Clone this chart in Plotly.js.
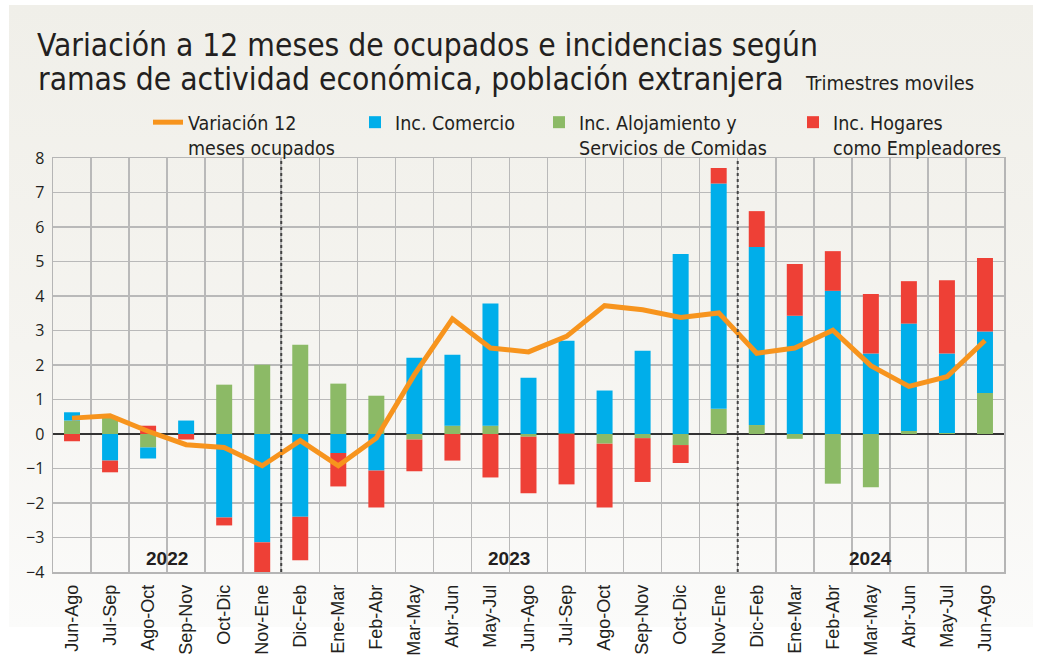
<!DOCTYPE html>
<html>
<head>
<meta charset="utf-8">
<script src="https://cdn.plot.ly/plotly-3.0.1.min.js"></script>
<style>
  html, body { margin: 0; padding: 0; background: #ffffff; }
  #wrap { position: relative; width: 1042px; height: 659px; overflow: hidden; }
  #bg { position: absolute; left: 9px; top: 5px; width: 1024px; height: 622px;
        background: linear-gradient(to bottom, #f0efe9 0%, #f5f4f0 55%, #fbfbfa 100%); }
  #chart { position: absolute; left: 0; top: 0; width: 1042px; height: 659px; }
</style>
</head>
<body>
<div id="wrap">
  <div id="bg"></div>
  <div id="chart"></div>
</div>
<script>
// ---- data ----
const categories = ["Jun-Ago","Jul-Sep","Ago-Oct","Sep-Nov","Oct-Dic","Nov-Ene",
  "Dic-Feb","Ene-Mar","Feb-Abr","Mar-May","Abr-Jun","May-Jul","Jun-Ago","Jul-Sep",
  "Ago-Oct","Sep-Nov","Oct-Dic","Nov-Ene",
  "Dic-Feb","Ene-Mar","Feb-Abr","Mar-May","Abr-Jun","May-Jul","Jun-Ago"];

const incAlojamiento = [0.39, 0.50, -0.39, 0.00, 1.43, 2.01, 2.59, 1.46, 1.11, -0.16,
  0.24, 0.24, -0.08, 0.02, -0.28, -0.12, -0.32, 0.73, 0.26, -0.14, -1.44, -1.54, 0.09, 0.03, 1.19];

const incComercio = [0.24, -0.77, -0.32, 0.39, -2.42, -3.14, -2.40, -0.55, -1.06, 2.21,
  2.06, 3.54, 1.63, 2.68, 1.26, 2.41, 5.22, 6.53, 5.16, 3.43, 4.15, 2.33, 3.11, 2.30, 1.78];

const incHogares = [-0.21, -0.34, 0.24, -0.16, -0.23, -0.90, -1.26, -0.97, -1.07, -0.92,
  -0.77, -1.26, -1.64, -1.46, -1.85, -1.27, -0.52, 0.45, 1.04, 1.50, 1.15, 1.73, 1.23, 2.13, 2.13];

const variacionOcupados = [0.46, 0.53, 0.08, -0.31, -0.39, -0.92, -0.19, -0.92, -0.12, 1.72,
  3.34, 2.49, 2.38, 2.83, 3.72, 3.60, 3.38, 3.51, 2.34, 2.49, 3.01, 1.98, 1.38, 1.66, 2.71];

const yearLabels = ["2022", "2023", "2024"];
const yearLabelPos = [2.5, 11.5, 21.0];
const yearBreaks = [5.5, 17.5];

const titleLine1 = "Variación a 12 meses de ocupados e incidencias según";
const titleLine2 = "ramas de actividad económica, población extranjera";
const subtitleText = "Trimestres moviles";

const legendNames = ["Variación 12<br>meses ocupados", "Inc. Comercio",
  "Inc. Alojamiento y<br>Servicios de Comidas", "Inc. Hogares<br>como Empleadores"];

// ---- chart ----
const xs = categories.map((_, i) => i);
const FONT = "'Liberation Sans Narrow', 'DejaVu Sans Condensed', 'Liberation Sans', sans-serif";
const TXT = "#231f20";

const COL_BLUE = "#00aeea";
const COL_GREEN = "#8cba66";
const COL_RED = "#ee4036";
const COL_ORANGE = "#f7941d";

const barW = 0.42;

// plot area in pixels (for paper-coordinate conversions)
const PL = 53, PR = 1004, PT = 158, PB = 572;
const px2paperX = px => (px - PL) / (PR - PL);
const px2paperY = py => (PB - py) / (PB - PT);

const traces = [
  { type: "bar", x: xs, y: incAlojamiento, name: legendNames[2], marker: { color: COL_GREEN },
    width: barW, legend: "legend3", hoverinfo: "y" },
  { type: "bar", x: xs, y: incComercio, name: legendNames[1], marker: { color: COL_BLUE },
    width: barW, legend: "legend2", hoverinfo: "y" },
  { type: "bar", x: xs, y: incHogares, name: legendNames[3], marker: { color: COL_RED },
    width: barW, legend: "legend4", hoverinfo: "y" },
  { type: "scatter", mode: "lines", x: xs, y: variacionOcupados, name: legendNames[0],
    line: { color: COL_ORANGE, width: 5 }, legend: "legend", hoverinfo: "y" }
];

function legendAt(px) {
  return { x: px / 1042, xref: "container", xanchor: "left",
    y: 1 - 103 / 659, yref: "container", yanchor: "top",
    orientation: "h", valign: "top", bgcolor: "rgba(0,0,0,0)", borderwidth: 0,
    font: { family: FONT, size: 19.5, color: TXT } };
}

const shapes = yearBreaks.map(xb => ({
  type: "line", xref: "x", yref: "y", x0: xb, x1: xb, y0: -4, y1: 8,
  line: { color: "#444", width: 2, dash: "dot" }, layer: "above"
}));

const annotations = yearLabels.map((t, i) => ({
  text: "<b>" + t + "</b>", x: yearLabelPos[i], y: -3.62, xref: "x", yref: "y",
  showarrow: false, font: { family: "'Liberation Sans', Arial, sans-serif", size: 19, color: TXT }
}));

annotations.push({
  text: titleLine2,
  xref: "paper", yref: "paper", x: px2paperX(36), y: px2paperY(79),
  xanchor: "left", yanchor: "middle", showarrow: false,
  font: { family: FONT, size: 31.5, color: TXT }
});
annotations.push({
  text: subtitleText,
  xref: "paper", yref: "paper", x: px2paperX(803), y: px2paperY(83),
  xanchor: "left", yanchor: "middle", showarrow: false,
  font: { family: FONT, size: 20, color: TXT }
});

const layout = {
  width: 1042, height: 659,
  paper_bgcolor: "rgba(0,0,0,0)", plot_bgcolor: "rgba(0,0,0,0)",
  margin: { l: PL, r: 1042 - PR, t: PT, b: 659 - PB, autoexpand: false },
  barmode: "relative",
  title: {
    text: titleLine1,
    x: 37 / 1042, xanchor: "left", xref: "container",
    y: 1 - 34 / 659, yanchor: "top", yref: "container",
    font: { family: FONT, size: 31.5, color: TXT }
  },
  font: { family: FONT, color: TXT },
  showlegend: true,
  legend: legendAt(148),
  legend2: legendAt(355),
  legend3: legendAt(539),
  legend4: legendAt(793),
  xaxis: {
    range: [-0.5, 24.5],
    tickmode: "array", tickvals: xs, ticktext: categories,
    tickangle: -90,
    tickfont: { family: "'Liberation Sans', Arial, sans-serif", size: 18, color: TXT },
    showgrid: false, zeroline: false,
    showline: true, linecolor: "#b5b5b5", linewidth: 1.5, mirror: true,
    ticks: "", ticklabelstandoff: 4,
    minor: { tick0: 0.5, dtick: 1, showgrid: true, gridcolor: "#b9b9b9", gridwidth: 1.5, ticks: "" },
    fixedrange: true
  },
  yaxis: {
    range: [-4, 8], dtick: 1, tick0: 0,
    tickfont: { family: "'Open Sans', 'Liberation Sans', sans-serif", size: 16, color: TXT },
    showgrid: true, gridcolor: "#b9b9b9", gridwidth: 1.5,
    zeroline: true, zerolinecolor: "#333333", zerolinewidth: 1.5,
    showline: true, linecolor: "#b5b5b5", linewidth: 1.5, mirror: true,
    ticks: "", ticklabelstandoff: 4,
    fixedrange: true
  },
  shapes: shapes,
  annotations: annotations
};

Plotly.newPlot("chart", traces, layout, { displayModeBar: false, staticPlot: true });
</script>
</body>
</html>
